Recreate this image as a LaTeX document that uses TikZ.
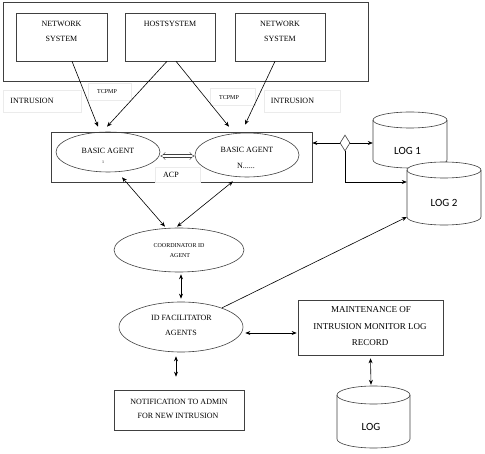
\documentclass[tikz,border=0pt]{standalone}
\usepackage{fontspec}
\setmainfont{Liberation Serif}
\newfontfamily\logfont{Carlito}
\usetikzlibrary{arrows.meta,shapes.geometric}
\newcommand{\mycyl}[5]{% L R T B ry
  \pgfmathsetmacro{\cxx}{(#1+#2)/2}\pgfmathsetmacro{\rxx}{(#2-#1)/2}
  \draw[ln, fill=white] (#1,#3-#5) -- (#1,#4+#5)
     arc[start angle=180,end angle=360,x radius=\rxx pt,y radius=#5 pt]
     -- (#2,#3-#5) arc[start angle=0,end angle=180,x radius=\rxx pt,y radius=#5 pt] -- cycle;
  \draw[ln] (#1,#3-#5) arc[start angle=180,end angle=360,x radius=\rxx pt,y radius=#5 pt];
}
\begin{document}
\begin{tikzpicture}[x=1pt,y=1pt,
  ln/.style={draw=black!75, line width=0.6pt},
  box/.style={ln, rectangle, inner sep=0pt},
  ell/.style={ln, ellipse, inner sep=0pt},
  faint/.style={draw=black!8, line width=0.5pt, rectangle, inner sep=0pt},
  tx/.style={inner sep=0pt, font=\fontsize{8}{9}\selectfont},
  arr/.style={line width=0.6pt, -{Stealth[length=5pt,width=4pt]}},
  darr/.style={line width=0.6pt, {Stealth[length=5pt,width=4pt]}-{Stealth[length=5pt,width=4pt]}},
]
\useasboundingbox (0,0) rectangle (485,453);

% top container
\node[box, minimum width=365pt, minimum height=79pt] (outer) at (185.5,411.5) {};
\node[box, minimum width=91pt, minimum height=48pt] (nl) at (61.5,416) {};
\node[box, minimum width=90pt, minimum height=48pt] (host) at (170,416) {};
\node[box, minimum width=90pt, minimum height=48pt] (nr) at (280,416) {};
\node[tx] (nl1) at (61.5,429) {NETWORK};
\node[tx] (nl2) at (61.5,414) {SYSTEM};
\node[tx] (h1) at (170,429) {HOSTSYSTEM};
\node[tx] (nr1) at (280,429) {NETWORK};
\node[tx] (nr2) at (280,414) {SYSTEM};

% faint label boxes
\node[faint, minimum width=78pt, minimum height=22pt] (fb1) at (42,352) {};
\node[faint, minimum width=43pt, minimum height=17pt] (fb2) at (109.5,361.5) {};
\node[faint, minimum width=45pt, minimum height=17pt] (fb3) at (232.5,356.5) {};
\node[faint, minimum width=76pt, minimum height=22pt] (fb4) at (302,352) {};
\node[tx] (int1) at (32,352) {INTRUSION};
\node[tx, font=\fontsize{6}{7}\selectfont] (tc1) at (107,361) {TCPMP};
\node[tx, font=\fontsize{6}{7}\selectfont] (tc2) at (229,355) {TCPMP};
\node[tx] (int2) at (292.5,352) {INTRUSION};

% agents
\node[box, minimum width=261pt, minimum height=50pt] (agbox) at (181.5,296) {};
\node[faint, minimum width=45pt, minimum height=15pt] (fb5) at (177.5,278.5) {};
\node[ell, minimum width=104pt, minimum height=40pt] (a1) at (108,301) {};
\node[ell, minimum width=104pt, minimum height=44pt] (an) at (247,298) {};
\node[tx] (a1t) at (108,302) {BASIC AGENT};
\node[tx, font=\fontsize{4}{5}\selectfont] (a1n) at (103,291) {1};
\node[tx] (ant) at (247,303) {BASIC AGENT};
\node[tx] (ann) at (246,287) {N......};
\node[tx] (acp) at (171,278) {ACP};
\draw[line width=0.4pt, draw=black!75, double distance=2.4pt, {Implies[length=4pt]}-{Implies[length=4pt]}] (a1.east |- 0,297) -- (an.west |- 0,297);

% top arrows
\draw[arr] ([xshift=10.5pt]nl.south) -- ([xshift=-10pt,yshift=5pt]a1.north);
\draw[arr] ([xshift=-3pt]host.south) -- ([xshift=-1pt,yshift=5pt]a1.north);
\draw[arr] ([xshift=6pt]host.south) -- ([xshift=-18pt,yshift=6pt]an.north);
\draw[arr] ([xshift=-5pt]nr.south) -- ([xshift=-2pt,yshift=8pt]an.north);

% logs
\node[inner sep=0pt, minimum width=74pt, minimum height=56pt] (log1) at (410,313) {};
\node[inner sep=0pt, minimum width=74pt, minimum height=63pt] (log2) at (444,259.5) {};
\mycyl{373}{447}{341}{285}{8}
\mycyl{407}{481}{291}{228}{8}
\node[inner sep=0pt, font=\logfont\fontsize{11}{12}\selectfont] (l1t) at (407.5,302) {LOG 1};
\node[inner sep=0pt, font=\logfont\fontsize{11}{12}\selectfont] (l2t) at (444,250) {LOG 2};

\node[diamond, ln, fill=white, inner sep=0pt, aspect=0.625, minimum width=10pt, minimum height=16pt] (dia) at (345,310) {};
\coordinate (c2) at (345,271);
\draw[arr] (dia.west) -- (dia.west -| agbox.east);
\draw[arr] (dia.east) -- (dia.east -| log1.west);
\draw[arr] (dia.south) -- (c2) -- (c2 -| log2.west);

% coordinator
\node[ell, minimum width=130pt, minimum height=44pt] (coord) at (179,203) {};
\node[tx, font=\fontsize{6}{7}\selectfont] (ct1) at (179,207) {COORDINATOR ID};
\node[tx, font=\fontsize{6}{7}\selectfont] (ct2) at (180,197) {AGENT};
\draw[darr] ([xshift=-14pt,yshift=1pt]coord.north) -- ([xshift=14pt,yshift=-5pt]a1.south);
\draw[darr] ([xshift=-2pt,yshift=1pt]coord.north) -- ([xshift=-14pt,yshift=-4pt]an.south);

% facilitator
\node[ell, minimum width=124pt, minimum height=50pt] (idf) at (181,126) {};
\node[tx] (it1) at (181.5,135) {ID FACILITATOR};
\node[tx] (it2) at (181,120) {AGENTS};
\draw[darr] ([xshift=2pt,yshift=-2pt]coord.south) -- ([yshift=3pt]idf.north);
\draw[arr] (idf.25) -- ([yshift=-23.5pt]log2.west);

% maintenance
\node[box, minimum width=145pt, minimum height=55pt] (maint) at (370.5,125.5) {};
\node[tx, font=\fontsize{9}{10}\selectfont] (m1) at (371,143) {MAINTENANCE OF};
\node[tx, font=\fontsize{9}{10}\selectfont] (m2) at (370,126) {INTRUSION MONITOR LOG};
\node[tx, font=\fontsize{9}{10}\selectfont] (m3) at (370,110) {RECORD};
\draw[darr] ([xshift=2pt,yshift=-6pt]idf.east) -- ([xshift=-1pt,yshift=-5.5pt]maint.west);

% notification
\node[box, minimum width=130pt, minimum height=40pt] (notif) at (179,43) {};
\node[tx] (n1) at (179,51) {NOTIFICATION TO ADMIN};
\node[tx] (n2) at (178,37) {FOR NEW INTRUSION};
\draw[darr] ([xshift=-5pt,yshift=-4pt]idf.south) -- ([xshift=-3pt,yshift=13pt]notif.north);

% LOG
\node[inner sep=0pt, minimum width=73pt, minimum height=62pt] (log) at (373.5,36) {};
\mycyl{337}{410}{67}{5}{9}
\node[inner sep=0pt, font=\logfont\fontsize{11}{12}\selectfont] (lt) at (371,26) {LOG};
\draw[darr] ([yshift=-3pt]maint.south) -- ([xshift=-2.5pt,yshift=1pt]log.north);
\end{tikzpicture}
\end{document}
